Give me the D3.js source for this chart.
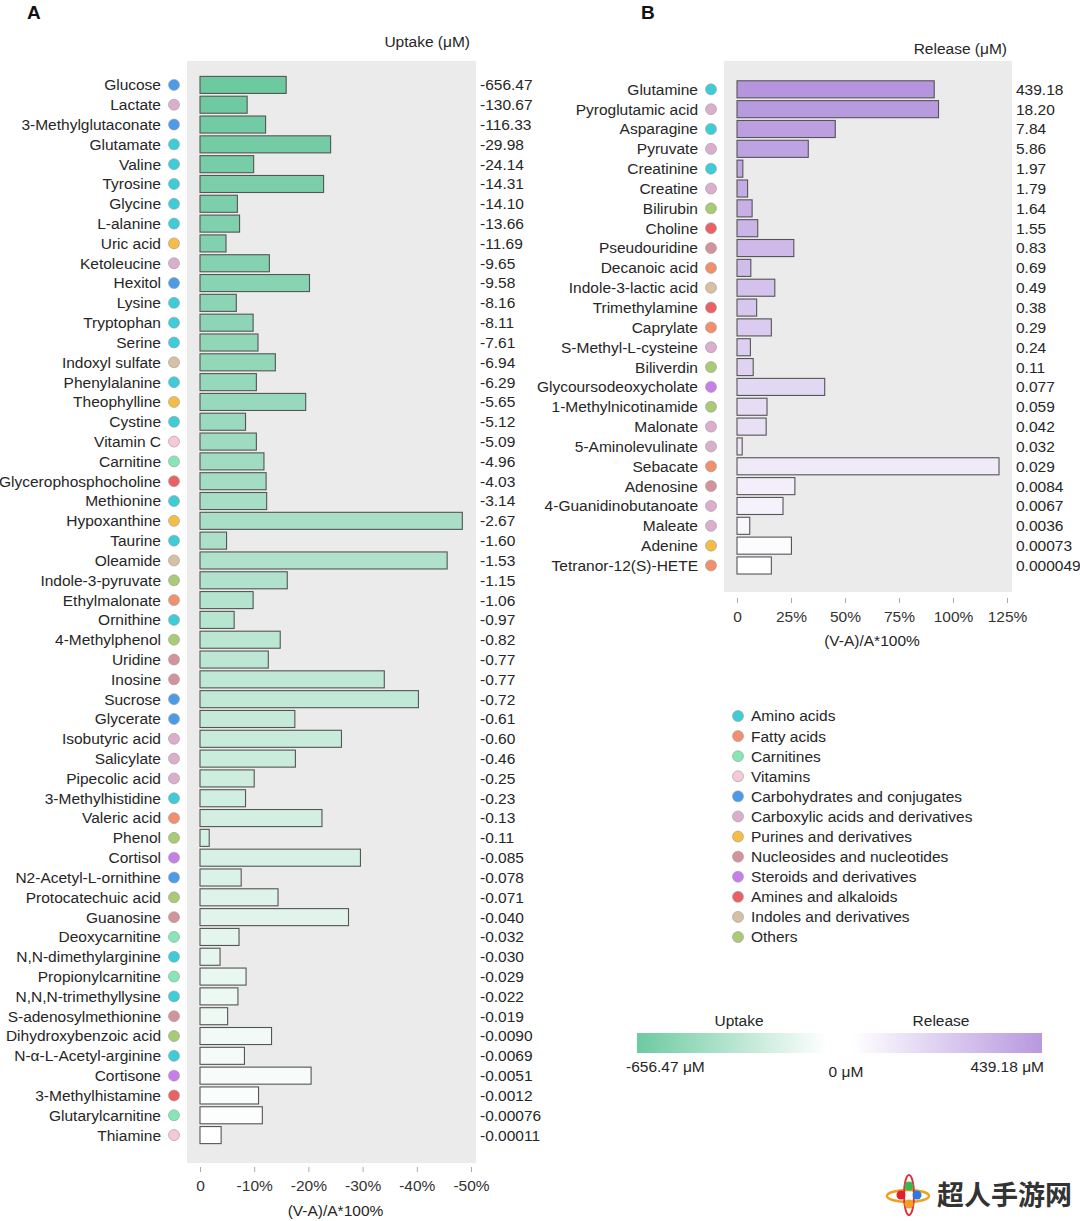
<!DOCTYPE html>
<html><head><meta charset="utf-8">
<script src="https://cdn.jsdelivr.net/npm/d3@7"></script>
<style>
html,body{margin:0;padding:0;background:#fff;}
svg{display:block;font-family:"Liberation Sans",Arial,Helvetica,sans-serif;}
</style></head>
<body>
<svg id="chart" width="1080" height="1221"></svg>
<script>
// ---------- DATA ----------
const classNames = ["Amino acids","Fatty acids","Carnitines","Vitamins","Carbohydrates and conjugates","Carboxylic acids and derivatives","Purines and derivatives","Nucleosides and nucleotides","Steroids and derivatives","Amines and alkaloids","Indoles and derivatives","Others"];
const classColors = ["#3dcdd8","#f2906e","#86e6b6","#f6c8d8","#4c9be8","#dbafcb","#f5bd45","#d3939a","#c67fe8","#ea6065","#d7c0a3","#a9cb76"];

const uptakeNames = ["Glucose","Lactate","3-Methylglutaconate","Glutamate","Valine","Tyrosine","Glycine","L-alanine","Uric acid","Ketoleucine","Hexitol","Lysine","Tryptophan","Serine","Indoxyl sulfate","Phenylalanine","Theophylline","Cystine","Vitamin C","Carnitine","Glycerophosphocholine","Methionine","Hypoxanthine","Taurine","Oleamide","Indole-3-pyruvate","Ethylmalonate","Ornithine","4-Methylphenol","Uridine","Inosine","Sucrose","Glycerate","Isobutyric acid","Salicylate","Pipecolic acid","3-Methylhistidine","Valeric acid","Phenol","Cortisol","N2-Acetyl-L-ornithine","Protocatechuic acid","Guanosine","Deoxycarnitine","N,N-dimethylarginine","Propionylcarnitine","N,N,N-trimethyllysine","S-adenosylmethionine","Dihydroxybenzoic acid","N-α-L-Acetyl-arginine","Cortisone","3-Methylhistamine","Glutarylcarnitine","Thiamine"];
const uptakePct = [-15.9,-8.7,-12.1,-24.1,-9.9,-22.8,-6.9,-7.3,-4.8,-12.8,-20.2,-6.7,-9.8,-10.7,-13.9,-10.4,-19.5,-8.4,-10.4,-11.8,-12.2,-12.3,-48.4,-4.9,-45.6,-16.1,-9.8,-6.3,-14.8,-12.6,-34.0,-40.3,-17.5,-26.1,-17.6,-10.0,-8.4,-22.5,-1.7,-29.6,-7.6,-14.4,-27.4,-7.2,-3.7,-8.5,-7.0,-5.1,-13.2,-8.2,-20.5,-10.8,-11.5,-3.9];
const uptakeLabels = ["-656.47","-130.67","-116.33","-29.98","-24.14","-14.31","-14.10","-13.66","-11.69","-9.65","-9.58","-8.16","-8.11","-7.61","-6.94","-6.29","-5.65","-5.12","-5.09","-4.96","-4.03","-3.14","-2.67","-1.60","-1.53","-1.15","-1.06","-0.97","-0.82","-0.77","-0.77","-0.72","-0.61","-0.60","-0.46","-0.25","-0.23","-0.13","-0.11","-0.085","-0.078","-0.071","-0.040","-0.032","-0.030","-0.029","-0.022","-0.019","-0.0090","-0.0069","-0.0051","-0.0012","-0.00076","-0.00011"];
const uptakeClass = [4,5,4,0,0,0,0,0,6,5,4,0,0,0,10,0,6,0,3,2,9,0,6,0,10,11,1,0,11,7,7,4,4,5,5,5,0,1,11,8,4,11,7,2,0,2,0,7,11,0,8,9,2,3];

const releaseNames = ["Glutamine","Pyroglutamic acid","Asparagine","Pyruvate","Creatinine","Creatine","Bilirubin","Choline","Pseudouridine","Decanoic acid","Indole-3-lactic acid","Trimethylamine","Caprylate","S-Methyl-L-cysteine","Biliverdin","Glycoursodeoxycholate","1-Methylnicotinamide","Malonate","5-Aminolevulinate","Sebacate","Adenosine","4-Guanidinobutanoate","Maleate","Adenine","Tetranor-12(S)-HETE"];
const releasePct = [91.3,93.3,45.5,33.0,2.7,4.9,7.0,9.6,26.3,6.4,17.5,9.1,15.9,6.2,7.5,40.6,13.9,13.5,2.4,121.3,26.8,21.3,5.9,25.2,15.9];
const releaseLabels = ["439.18","18.20","7.84","5.86","1.97","1.79","1.64","1.55","0.83","0.69","0.49","0.38","0.29","0.24","0.11","0.077","0.059","0.042","0.032","0.029","0.0084","0.0067","0.0036","0.00073","0.000049"];
const releaseClass = [0,5,0,5,0,5,11,9,7,1,10,9,1,5,11,8,11,5,5,1,7,5,5,6,1];

const uptakeTicks = [0,-10,-20,-30,-40,-50];
const releaseTicks = [0,25,50,75,100,125];
const colorbarTicks = ["-656.47 μM","0 μM","439.18 μM"];

// ---------- DRAW ----------
const svg = d3.select("#chart");
const TXT = "#262626";
const FS = 15.5;

function panel(o){
  const g = svg.append("g");
  g.append("rect").attr("x",o.bgX[0]).attr("y",o.bgY[0])
    .attr("width",o.bgX[1]-o.bgX[0]).attr("height",o.bgY[1]-o.bgY[0]).attr("fill","#ebebeb");
  const x = d3.scaleLinear().domain(o.domain).range(o.xr);
  const y = d3.scaleBand().domain(o.names).range(o.yr).paddingInner(0.14).paddingOuter(0.07);
  const n = o.names.length;
  const col = d3.interpolateRgb(o.c0,"#ffffff");
  g.selectAll("rect.bar").data(o.names).join("rect").attr("class","bar")
    .attr("x",x(0)).attr("y",d=>y(d))
    .attr("width",(d,i)=>x(o.vals[i])-x(0)).attr("height",y.bandwidth())
    .attr("fill",(d,i)=>col(i/(n-1))).attr("stroke","#555").attr("stroke-width",1.1);
  g.selectAll("text.lab").data(o.names).join("text").attr("class","lab")
    .attr("x",o.labX).attr("y",d=>y(d)+y.bandwidth()/2).attr("dy","0.35em")
    .attr("text-anchor","end").attr("font-size",FS).attr("fill",TXT).text(d=>d);
  g.selectAll("circle.dot").data(o.names).join("circle").attr("class","dot")
    .attr("cx",o.dotX).attr("cy",d=>y(d)+y.bandwidth()/2).attr("r",5.5)
    .attr("fill",(d,i)=>classColors[o.cls[i]]).attr("stroke","#9a9a9a").attr("stroke-width",0.6);
  g.selectAll("text.val").data(o.labels).join("text").attr("class","val")
    .attr("x",o.valX).attr("y",(d,i)=>y(o.names[i])+y.bandwidth()/2).attr("dy","0.35em")
    .attr("font-size",FS).attr("fill",TXT).text(d=>d);
  const ax = g.append("g").attr("transform",`translate(0,${o.axY})`)
    .call(d3.axisBottom(x).tickValues(o.ticks).tickSize(5).tickPadding(8).tickFormat(d=>d===0?"0":d+"%"));
  ax.select(".domain").remove();
  ax.selectAll(".tick line").attr("stroke","#aaa");
  ax.selectAll(".tick text").attr("font-size",FS).attr("fill","#333").attr("font-family","Liberation Sans, Arial, sans-serif");
  g.append("text").attr("x",(o.xr[0]+o.xr[1])/2).attr("y",o.axTitleY).attr("dy","0.35em")
    .attr("text-anchor","middle").attr("font-size",FS).attr("fill",TXT).text("(V-A)/A*100%");
  g.append("text").attr("x",o.titleX).attr("y",o.titleY).attr("dy","0.35em")
    .attr("text-anchor","end").attr("font-size",FS).attr("fill",TXT).text(o.title);
  g.append("text").attr("x",o.letterX).attr("y",19).attr("font-size",19).attr("font-weight","bold").attr("fill","#111").text(o.letter);
}

panel({names:uptakeNames, vals:uptakePct, labels:uptakeLabels, cls:uptakeClass,
  domain:[0,-50], xr:[200,471], yr:[75,1145], bgX:[187,476], bgY:[61,1163], c0:"#6cc9a0",
  labX:161, dotX:174, valX:480, axY:1167, axTitleY:1211, ticks:uptakeTicks,
  title:"Uptake (μM)", titleX:470, titleY:42, letter:"A", letterX:27});

panel({names:releaseNames, vals:releasePct, labels:releaseLabels, cls:releaseClass,
  domain:[0,125], xr:[737,1007], yr:[79.4,575.4], bgX:[724,1012], bgY:[61,592], c0:"#b596de",
  labX:698, dotX:711, valX:1016, axY:598, axTitleY:641, ticks:releaseTicks,
  title:"Release (μM)", titleX:1007, titleY:49, letter:"B", letterX:641});

// legend
const lg = svg.append("g");
const ly = d3.scalePoint().domain(classNames).range([716,937]);
lg.selectAll("circle").data(classNames).join("circle")
  .attr("cx",738).attr("cy",d=>ly(d)).attr("r",5.5)
  .attr("fill",(d,i)=>classColors[i]).attr("stroke","#9a9a9a").attr("stroke-width",0.6);
lg.selectAll("text").data(classNames).join("text")
  .attr("x",751).attr("y",d=>ly(d)).attr("dy","0.35em").attr("font-size",FS).attr("fill",TXT).text(d=>d);

// colorbar
const defs = svg.append("defs");
const grad = defs.append("linearGradient").attr("id","cb").attr("x1","0%").attr("x2","100%");
[[0,"#6dcaa1"],[0.47,"#ffffff"],[0.53,"#ffffff"],[1,"#b898df"]].forEach(s=>grad.append("stop").attr("offset",s[0]).attr("stop-color",s[1]));
const cbx = d3.scaleLinear().domain([0,1]).range([637,1042]);
svg.append("rect").attr("x",cbx(0)).attr("y",1033).attr("width",cbx(1)-cbx(0)).attr("height",20).attr("fill","url(#cb)");
svg.append("text").attr("x",739).attr("y",1021).attr("dy","0.35em").attr("text-anchor","middle").attr("font-size",FS).attr("fill",TXT).text("Uptake");
svg.append("text").attr("x",941).attr("y",1021).attr("dy","0.35em").attr("text-anchor","middle").attr("font-size",FS).attr("fill",TXT).text("Release");
svg.append("text").attr("x",626).attr("y",1067).attr("dy","0.35em").attr("font-size",FS).attr("fill",TXT).text(colorbarTicks[0]);
svg.append("text").attr("x",846).attr("y",1072).attr("dy","0.35em").attr("text-anchor","middle").attr("font-size",FS).attr("fill",TXT).text(colorbarTicks[1]);
svg.append("text").attr("x",1044).attr("y",1067).attr("dy","0.35em").attr("text-anchor","end").attr("font-size",FS).attr("fill",TXT).text(colorbarTicks[2]);

// watermark
const wm = svg.append("g");
wm.append("ellipse").attr("cx",908).attr("cy",1196).attr("rx",21).attr("ry",6).attr("fill","none").attr("stroke","#f0a020").attr("stroke-width",2.5);
wm.append("ellipse").attr("cx",909).attr("cy",1195).attr("rx",5).attr("ry",20).attr("fill","none").attr("stroke","#e0303a").attr("stroke-width",2);
[[909,1186,"#3cb54a"],[901,1195,"#e0202a"],[917,1195,"#2a7ae0"],[909,1204,"#f0a020"]].forEach(c=>
  wm.append("circle").attr("cx",c[0]).attr("cy",c[1]).attr("r",4.5).attr("fill",c[2]));
wm.append("text").attr("x",937).attr("y",1196).attr("dy","0.35em").attr("font-size",27).attr("font-weight","bold")
  .attr("font-family","Noto Sans CJK SC, sans-serif").attr("fill","#333").text("超人手游网");
</script>
</body></html>
